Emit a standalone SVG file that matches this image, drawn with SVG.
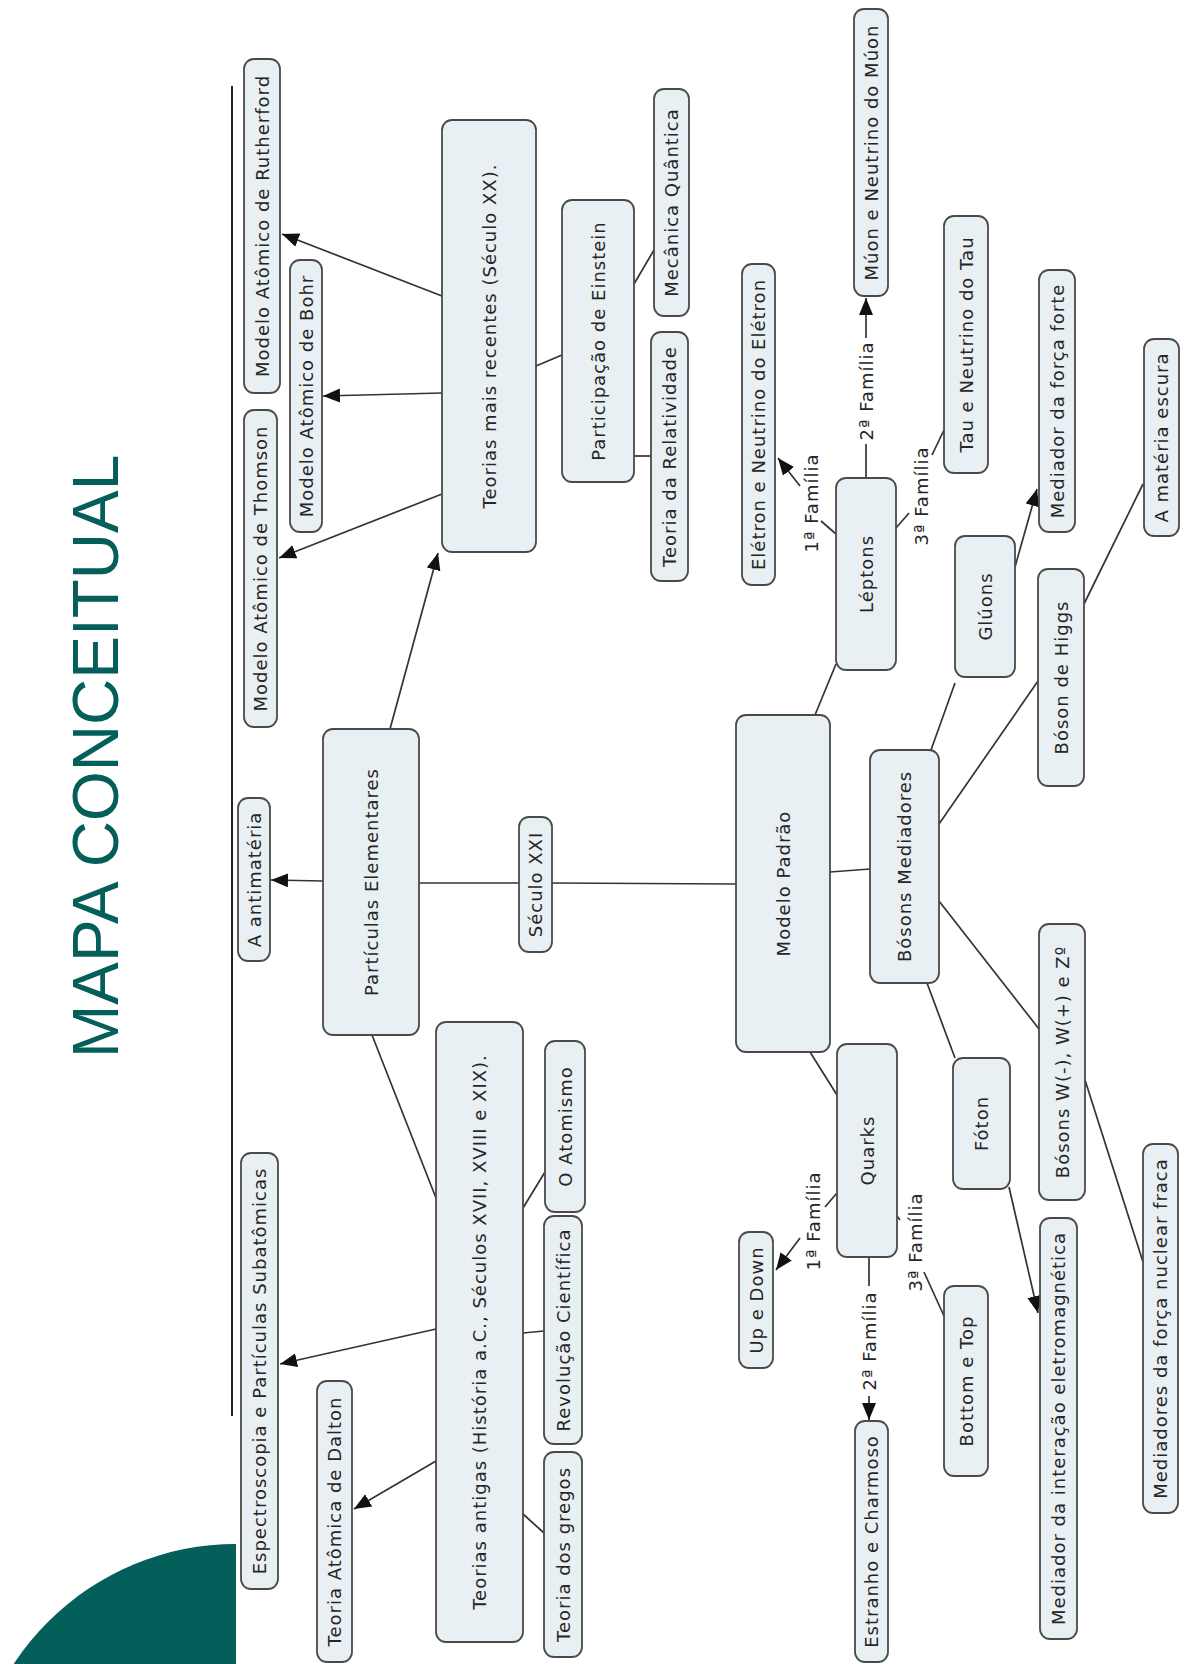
<svg xmlns="http://www.w3.org/2000/svg" width="1184" height="1664" viewBox="0 0 1184 1664">
  <style>
    .box { fill: #e9f0f3; stroke: #4a4a4a; stroke-width: 1.8; }
    .lbl { font-family: "DejaVu Sans", Verdana, sans-serif; font-size: 18px; letter-spacing: 1px; fill: #262626; text-anchor: middle; dominant-baseline: central; }
    .ln { stroke: #333; stroke-width: 1.7; fill: none; }
    .arr { marker-end: url(#head); }
  </style>
  <defs>
    <marker id="head" markerUnits="userSpaceOnUse" markerWidth="19" markerHeight="15" refX="17" refY="7" orient="auto">
      <path d="M0,0 L17,7 L0,14 Z" fill="#111"/>
    </marker>
  </defs>
  <rect width="1184" height="1664" fill="#fff"/>

  <!-- decorative title and corner shape -->
  <path d="M236,1544 A266,266 0 0 0 -30,1810 L236,1810 Z" fill="#045e5a"/>
  <text x="118" y="1058" transform="rotate(-90 118 1058)" font-family="Liberation Sans, Arial, sans-serif" font-size="64" fill="#045e5a">MAPA CONCEITUAL</text>
  <line x1="232" y1="86" x2="232" y2="1416" stroke="#222" stroke-width="2"/>

  <!-- connectors -->
  <g id="connectors">
    <line class="ln arr" x1="442" y1="296" x2="282" y2="234"/>
    <line class="ln arr" x1="442" y1="393" x2="323" y2="396"/>
    <line class="ln arr" x1="442" y1="494" x2="279" y2="558"/>
    <line class="ln" x1="536" y1="366" x2="562" y2="355"/>
    <line class="ln" x1="634" y1="284" x2="654" y2="250"/>
    <line class="ln" x1="634" y1="456" x2="651" y2="456"/>
    <line class="ln arr" x1="390" y1="729" x2="438" y2="553"/>
    <line class="ln arr" x1="323" y1="881" x2="271" y2="880"/>
    <line class="ln" x1="419" y1="883" x2="519" y2="883"/>
    <line class="ln" x1="552" y1="883" x2="736" y2="884"/>
    <line class="ln" x1="372" y1="1035" x2="436" y2="1198"/>
    <line class="ln arr" x1="436" y1="1329" x2="280" y2="1364"/>
    <line class="ln arr" x1="436" y1="1461" x2="354" y2="1509"/>
    <line class="ln" x1="523" y1="1208" x2="545" y2="1172"/>
    <line class="ln" x1="523" y1="1333" x2="544" y2="1331"/>
    <line class="ln" x1="523" y1="1514" x2="544" y2="1533"/>
    <line class="ln" x1="815" y1="715" x2="836" y2="664"/>
    <line class="ln" x1="836" y1="534" x2="821" y2="521"/>
    <line class="ln arr" x1="800" y1="486" x2="778" y2="458"/>
    <line class="ln" x1="866" y1="478" x2="866" y2="444"/>
    <line class="ln arr" x1="866" y1="338" x2="866" y2="298"/>
    <line class="ln" x1="896" y1="528" x2="909" y2="513"/>
    <line class="ln" x1="932" y1="455" x2="944" y2="430"/>
    <line class="ln" x1="830" y1="872" x2="870" y2="869"/>
    <line class="ln" x1="931" y1="750" x2="955" y2="683"/>
    <line class="ln arr" x1="1015" y1="567" x2="1037" y2="489"/>
    <line class="ln" x1="939" y1="824" x2="1038" y2="681"/>
    <line class="ln" x1="1084" y1="604" x2="1143" y2="484"/>
    <line class="ln" x1="939" y1="901" x2="1039" y2="1029"/>
    <line class="ln" x1="927" y1="983" x2="955" y2="1058"/>
    <line class="ln arr" x1="1009" y1="1187" x2="1038" y2="1313"/>
    <line class="ln" x1="1085" y1="1080" x2="1143" y2="1262"/>
    <line class="ln" x1="810" y1="1052" x2="837" y2="1095"/>
    <line class="ln" x1="837" y1="1193" x2="825" y2="1207"/>
    <line class="ln arr" x1="800" y1="1238" x2="776" y2="1270"/>
    <line class="ln" x1="869" y1="1257" x2="869" y2="1286"/>
    <line class="ln arr" x1="869" y1="1396" x2="869" y2="1420"/>
    <line class="ln" x1="897" y1="1216" x2="900" y2="1220"/>
    <line class="ln" x1="924" y1="1272" x2="944" y2="1316"/>
  </g>

  <!-- linking phrases -->
  <g id="phrases">
    <text class="lbl" x="811" y="503" transform="rotate(-90 811 503)">1ª Família</text>
    <text class="lbl" x="866" y="391" transform="rotate(-90 866 391)">2ª Família</text>
    <text class="lbl" x="921" y="496" transform="rotate(-90 921 496)">3ª Família</text>
    <text class="lbl" x="813" y="1221" transform="rotate(-90 813 1221)">1ª Família</text>
    <text class="lbl" x="869" y="1341" transform="rotate(-90 869 1341)">2ª Família</text>
    <text class="lbl" x="915" y="1242" transform="rotate(-90 915 1242)">3ª Família</text>
  </g>

  <!-- concepts -->
  <g id="rutherford"><rect class="box" x="244" y="59" width="36" height="334" rx="10"/><text class="lbl" x="262" y="226" transform="rotate(-90 262 226)">Modelo Atômico de Rutherford</text></g>
  <g id="bohr"><rect class="box" x="290" y="260" width="32" height="272" rx="10"/><text class="lbl" x="306" y="396" transform="rotate(-90 306 396)">Modelo Atômico de Bohr</text></g>
  <g id="thomson"><rect class="box" x="244" y="410" width="33" height="317" rx="10"/><text class="lbl" x="260.5" y="568.5" transform="rotate(-90 260.5 568.5)">Modelo Atômico de Thomson</text></g>
  <g id="teorias-recentes"><rect class="box" x="442" y="120" width="94" height="432" rx="10"/><text class="lbl" x="489" y="336" transform="rotate(-90 489 336)">Teorias mais recentes (Século XX).</text></g>
  <g id="einstein"><rect class="box" x="562" y="200" width="72" height="282" rx="10"/><text class="lbl" x="598" y="341" transform="rotate(-90 598 341)">Participação de Einstein</text></g>
  <g id="mecanica"><rect class="box" x="654" y="89" width="35" height="227" rx="10"/><text class="lbl" x="671.5" y="202.5" transform="rotate(-90 671.5 202.5)">Mecânica Quântica</text></g>
  <g id="relatividade"><rect class="box" x="651" y="332" width="37" height="249" rx="10"/><text class="lbl" x="669.5" y="456.5" transform="rotate(-90 669.5 456.5)">Teoria da Relatividade</text></g>
  <g id="eletron"><rect class="box" x="742" y="264" width="33" height="321" rx="10"/><text class="lbl" x="758.5" y="424.5" transform="rotate(-90 758.5 424.5)">Elétron e Neutrino do Elétron</text></g>
  <g id="muon"><rect class="box" x="854" y="9" width="34" height="287" rx="10"/><text class="lbl" x="871" y="152.5" transform="rotate(-90 871 152.5)">Múon e Neutrino do Múon</text></g>
  <g id="leptons"><rect class="box" x="836" y="478" width="60" height="192" rx="10"/><text class="lbl" x="866" y="574" transform="rotate(-90 866 574)">Léptons</text></g>
  <g id="tau"><rect class="box" x="944" y="216" width="44" height="257" rx="10"/><text class="lbl" x="966" y="344.5" transform="rotate(-90 966 344.5)">Tau e Neutrino do Tau</text></g>
  <g id="forca-forte"><rect class="box" x="1039" y="270" width="36" height="262" rx="10"/><text class="lbl" x="1057" y="401" transform="rotate(-90 1057 401)">Mediador da força forte</text></g>
  <g id="materia-escura"><rect class="box" x="1144" y="339" width="35" height="197" rx="10"/><text class="lbl" x="1161.5" y="437.5" transform="rotate(-90 1161.5 437.5)">A matéria escura</text></g>
  <g id="gluons"><rect class="box" x="955" y="536" width="60" height="141" rx="10"/><text class="lbl" x="985" y="606.5" transform="rotate(-90 985 606.5)">Glúons</text></g>
  <g id="higgs"><rect class="box" x="1038" y="569" width="46" height="217" rx="10"/><text class="lbl" x="1061" y="677.5" transform="rotate(-90 1061 677.5)">Bóson de Higgs</text></g>
  <g id="modelo-padrao"><rect class="box" x="736" y="715" width="94" height="337" rx="10"/><text class="lbl" x="783" y="883.5" transform="rotate(-90 783 883.5)">Modelo Padrão</text></g>
  <g id="bosons-mediadores"><rect class="box" x="870" y="750" width="69" height="233" rx="10"/><text class="lbl" x="904.5" y="866.5" transform="rotate(-90 904.5 866.5)">Bósons Mediadores</text></g>
  <g id="particulas"><rect class="box" x="323" y="729" width="96" height="306" rx="10"/><text class="lbl" x="371" y="882" transform="rotate(-90 371 882)">Partículas Elementares</text></g>
  <g id="antimateria"><rect class="box" x="238" y="798" width="32" height="163" rx="10"/><text class="lbl" x="254" y="879.5" transform="rotate(-90 254 879.5)">A antimatéria</text></g>
  <g id="seculo-xxi"><rect class="box" x="519" y="817" width="33" height="135" rx="10"/><text class="lbl" x="535.5" y="884.5" transform="rotate(-90 535.5 884.5)">Século XXI</text></g>
  <g id="bosons-w"><rect class="box" x="1039" y="924" width="46" height="276" rx="10"/><text class="lbl" x="1062" y="1062" transform="rotate(-90 1062 1062)">Bósons W(-), W(+) e Zº</text></g>
  <g id="foton"><rect class="box" x="953" y="1058" width="57" height="131" rx="10"/><text class="lbl" x="981.5" y="1123.5" transform="rotate(-90 981.5 1123.5)">Fóton</text></g>
  <g id="quarks"><rect class="box" x="837" y="1044" width="60" height="213" rx="10"/><text class="lbl" x="867" y="1150.5" transform="rotate(-90 867 1150.5)">Quarks</text></g>
  <g id="teorias-antigas"><rect class="box" x="436" y="1022" width="87" height="620" rx="10"/><text class="lbl" x="479.5" y="1332" transform="rotate(-90 479.5 1332)">Teorias antigas (História a.C., Séculos XVII, XVIII e XIX).</text></g>
  <g id="atomismo"><rect class="box" x="545" y="1041" width="40" height="171" rx="10"/><text class="lbl" x="565" y="1126.5" transform="rotate(-90 565 1126.5)">O Atomismo</text></g>
  <g id="revolucao"><rect class="box" x="544" y="1216" width="38" height="228" rx="10"/><text class="lbl" x="563" y="1330" transform="rotate(-90 563 1330)">Revolução Científica</text></g>
  <g id="gregos"><rect class="box" x="544" y="1452" width="38" height="205" rx="10"/><text class="lbl" x="563" y="1554.5" transform="rotate(-90 563 1554.5)">Teoria dos gregos</text></g>
  <g id="espectroscopia"><rect class="box" x="241" y="1153" width="37" height="436" rx="10"/><text class="lbl" x="259.5" y="1371" transform="rotate(-90 259.5 1371)">Espectroscopia e Partículas Subatômicas</text></g>
  <g id="dalton"><rect class="box" x="317" y="1381" width="35" height="281" rx="10"/><text class="lbl" x="334.5" y="1521.5" transform="rotate(-90 334.5 1521.5)">Teoria Atômica de Dalton</text></g>
  <g id="up-down"><rect class="box" x="739" y="1232" width="34" height="136" rx="10"/><text class="lbl" x="756" y="1300" transform="rotate(-90 756 1300)">Up e Down</text></g>
  <g id="estranho"><rect class="box" x="855" y="1421" width="33" height="241" rx="10"/><text class="lbl" x="871.5" y="1541.5" transform="rotate(-90 871.5 1541.5)">Estranho e Charmoso</text></g>
  <g id="bottom-top"><rect class="box" x="944" y="1286" width="44" height="190" rx="10"/><text class="lbl" x="966" y="1381" transform="rotate(-90 966 1381)">Bottom e Top</text></g>
  <g id="eletromagnetica"><rect class="box" x="1040" y="1218" width="37" height="421" rx="10"/><text class="lbl" x="1058.5" y="1428.5" transform="rotate(-90 1058.5 1428.5)">Mediador da interação eletromagnética</text></g>
  <g id="forca-fraca"><rect class="box" x="1143" y="1144" width="35" height="369" rx="10"/><text class="lbl" x="1160.5" y="1328.5" transform="rotate(-90 1160.5 1328.5)">Mediadores da força nuclear fraca</text></g>
</svg>
